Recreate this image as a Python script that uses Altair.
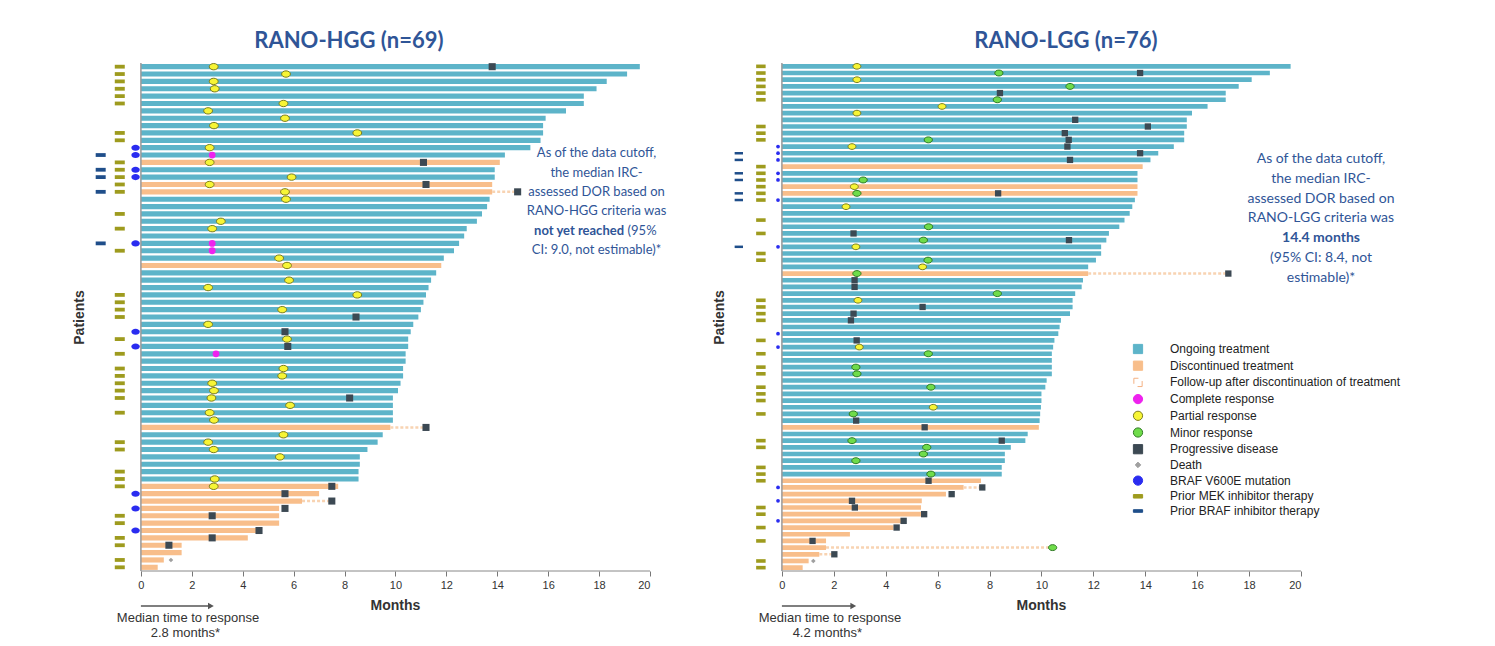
import altair as alt
import pandas as pd

# ---------------- RANO-HGG (n=69) ----------------
hgg_end = [19.6, 19.1, 18.3, 17.9, 17.4, 17.4, 16.7, 15.9, 15.8, 15.8,
           15.7, 15.3, 14.3, 14.1, 13.9, 13.9, 13.8, 13.8, 13.7, 13.6,
           13.4, 13.2, 12.8, 12.7, 12.5, 12.3, 11.9, 11.8, 11.6, 11.4,
           11.3, 11.2, 11.1, 11.0, 10.9, 10.7, 10.6, 10.5, 10.5, 10.4,
           10.4, 10.3, 10.3, 10.2, 10.1, 9.9, 9.9, 9.9, 9.9, 9.8,
           9.5, 9.3, 8.9, 8.6, 8.6, 8.55, 8.55, 7.75, 7.0, 6.33,
           5.43, 5.43, 5.43, 4.6, 4.2, 1.6, 1.6, 0.9, 0.66]
hgg_disc = [14, 17, 18, 28, 50] + list(range(58, 70))
hgg_fu_rows = [18, 50, 60]
hgg_fu_end = [14.8, 11.2, 7.5]
hgg_pr_rows = [1, 2, 3, 4, 6, 7, 8, 9, 10, 12, 14, 16, 17, 18, 19, 22, 23, 27, 28, 30,
               31, 32, 34, 36, 38, 42, 43, 44, 45, 46, 47, 48, 49, 51, 52, 53, 54, 57, 58]
hgg_pr_m = [2.86, 5.7, 2.86, 2.9, 5.6, 2.64, 5.66, 2.87, 8.5, 2.7, 2.7, 5.92, 2.7, 5.66, 5.7,
            3.14, 2.8, 5.43, 5.74, 5.82, 2.64, 8.5, 5.55, 2.64, 5.74, 5.6, 5.55, 2.8, 2.87,
            2.77, 5.86, 2.7, 2.87, 5.6, 2.64, 2.86, 5.46, 2.9, 2.86]
hgg_cr_rows = [13, 25, 26, 40]
hgg_cr_m = [2.8, 2.8, 2.8, 2.95]
hgg_mr_rows = []
hgg_mr_m = []
hgg_pd_rows = [1, 14, 17, 18, 35, 37, 39, 46, 50, 58, 59, 60, 61, 62, 64, 65, 66]
hgg_pd_m = [13.8, 11.1, 11.2, 14.8, 8.45, 5.66, 5.77, 8.2, 11.2, 7.5, 5.66, 7.5, 5.66,
            2.8, 4.64, 2.8, 1.1]
hgg_death_rows = [68]
hgg_death_m = [1.18]
hgg_mek = [1, 2, 3, 4, 5, 6, 10, 11, 14, 15, 16, 17, 18, 21, 23, 26, 32, 33, 34, 35, 38, 40,
           42, 43, 44, 45, 46, 48, 52, 53, 56, 57, 58, 62, 63, 65, 66, 68, 69]
hgg_braf = [13, 15, 16, 18, 25]
hgg_v600 = [12, 13, 15, 16, 25, 37, 39, 59, 61, 64]

# ---------------- RANO-LGG (n=76) ----------------
lgg_end = [19.6, 18.8, 18.1, 17.6, 17.1, 17.1, 16.4, 15.8, 15.6, 15.6,
           15.5, 15.5, 15.1, 14.5, 14.2, 13.9, 13.7, 13.7, 13.7, 13.7,
           13.6, 13.5, 13.4, 13.2, 13.0, 12.6, 12.5, 12.3, 12.3, 12.1,
           11.8, 11.8, 11.6, 11.55, 11.3, 11.2, 11.2, 11.1, 10.75, 10.7,
           10.65, 10.5, 10.45, 10.4, 10.4, 10.4, 10.4, 10.2, 10.15, 10.0,
           10.0, 9.98, 9.95, 9.93, 9.9, 9.47, 9.38, 8.82, 8.59, 8.59,
           8.47, 8.47, 7.67, 7.0, 6.32, 5.39, 5.36, 5.42, 4.69, 4.3,
           2.62, 1.7, 1.7, 1.44, 1.03, 0.8]
lgg_disc = [16, 19, 20, 32, 55] + list(range(63, 77))
lgg_fu_rows = [32, 64, 73, 74]
lgg_fu_end = [17.2, 7.72, 10.43, 2.02]
lgg_pr_rows = [1, 3, 7, 8, 13, 19, 22, 28, 31, 36, 43, 52]
lgg_pr_m = [2.89, 2.89, 6.17, 2.89, 2.7, 2.79, 2.47, 2.85, 5.42, 2.93, 2.98, 5.83]
lgg_cr_rows = []
lgg_cr_m = []
lgg_mr_rows = [2, 4, 6, 12, 18, 20, 25, 27, 30, 32, 35, 44, 46, 47, 49, 53, 57, 58, 59, 60, 62, 73]
lgg_mr_m = [8.36, 11.1, 8.3, 5.64, 3.13, 2.89, 5.65, 5.45, 5.63, 2.89, 8.3, 5.64, 2.85, 2.89,
            5.74, 2.75, 2.7, 5.58, 5.45, 2.85, 5.74, 10.43]
lgg_pd_rows = [2, 5, 9, 10, 11, 12, 13, 14, 15, 20, 26, 27, 32, 33, 34, 37, 38, 39, 42, 54,
               55, 57, 63, 64, 65, 66, 67, 68, 69, 70, 72, 74]
lgg_pd_m = [13.8, 8.4, 11.3, 14.1, 10.9, 11.05, 11.0, 13.8, 11.1, 8.33, 2.76, 11.06, 17.2,
            2.8, 2.8, 5.42, 2.76, 2.66, 2.88, 2.86, 5.5, 8.47, 5.65, 7.72, 6.54, 2.7, 2.81,
            5.48, 4.69, 4.42, 1.18, 2.02]
lgg_death_rows = [75]
lgg_death_m = [1.21]
lgg_mek = [1, 2, 3, 4, 5, 6, 10, 11, 12, 16, 17, 18, 19, 20, 21, 24, 26, 29, 30, 36, 37, 38,
           39, 42, 44, 46, 47, 49, 50, 51, 53, 57, 58, 61, 62, 63, 67, 68, 70, 72, 75, 76]
lgg_braf = [14, 15, 17, 18, 20, 21, 28]
lgg_v600 = [13, 14, 15, 17, 18, 21, 28, 41, 43, 64, 66, 69]

legend_labels = ["Ongoing treatment", "Discontinued treatment",
                 "Follow-up after discontinuation of treatment", "Complete response",
                 "Partial response", "Minor response", "Progressive disease", "Death",
                 "BRAF V600E mutation", "Prior MEK inhibitor therapy",
                 "Prior BRAF inhibitor therapy"]

# ---------------- styles ----------------
FONT = "Liberation Sans"
NOTE_FONT = "Lato"
BLUE = "#2f5597"
TEAL = "#5db4c9"
ORANGE = "#f8be8b"
FU = "#f8d3b2"
CRC = "#ee22ee"
PRF, PRS = "#f7f535", "#7d7d1e"
MRF, MRS = "#6fdc4a", "#2f7a23"
PDC = "#3c4953"
DEATHC = "#a0a0a0"
V600C = "#2a2cf0"
MEKC = "#9e9b1e"
BRAFC = "#1f4e8a"
RECT = "M-1,-0.38L1,-0.38L1,0.38L-1,0.38Z"
ELL = "M-1,0A1,0.72,0,1,1,1,0A1,0.72,0,1,1,-1,0Z"
DIAM = "M0,-0.6L0.6,0L0,0.6L-0.6,0Z"
BRACKET = "M-0.9,0.3L-0.9,-0.9L0.1,-0.9M0.9,-0.3L0.9,0.9L-0.1,0.9"

legend_fill = [TEAL, ORANGE, "transparent", CRC, PRF, MRF, PDC, DEATHC, V600C, MEKC, BRAFC]
legend_stroke = [TEAL, ORANGE, "#f4b183", CRC, PRS, MRS, PDC, DEATHC, V600C, MEKC, BRAFC]
legend_shape = ["square", "square", BRACKET, "circle", "circle", "circle", "square", DIAM,
                "circle", RECT, "M-1,-0.28L1,-0.28L1,0.28L-1,0.28Z"]

H = 508


def one():
    return pd.DataFrame({"k": [0]})


def text_layer(x, ypx, s, size=14, bold=False, color=BLUE, align="center", font=NOTE_FONT):
    return alt.Chart(one()).mark_text(
        text=s, fontSize=size, fontWeight="bold" if bold else "normal", color=color,
        align=align, baseline="middle", font=font
    ).encode(x=alt.datum(x), y=alt.value(ypx))


def panel(n, ends, disc, fu_rows, fu_end, pr, cr, mr, pdz, death, mek, braf, v600,
          W, big, title, title_x, notes, cols, with_legend):
    rows = list(range(1, n + 1))
    bars = pd.DataFrame({"row": rows, "start": [0.0] * n, "end": ends})
    bars["disc"] = [r in disc for r in rows]
    yenc = alt.Y("row:O",
                 scale=alt.Scale(domain=rows, paddingInner=0.3, paddingOuter=0.15),
                 axis=alt.Axis(title="Patients", labels=False, ticks=False, domain=False,
                               titleFont=FONT, titleFontSize=14, titleFontWeight="bold",
                               titleColor="#333333", titlePadding=4))
    xscale = alt.Scale(domain=[-2, 20], nice=False, zero=False)
    xaxis = alt.Axis(values=list(range(0, 21, 2)), domain=False, grid=False, title=None,
                     labelFont=FONT, labelFontSize=11, labelColor="#333333",
                     tickColor="#777777", tickSize=5, labelPadding=3)

    def X(f):
        return alt.X(f, scale=xscale, axis=xaxis)

    layers = []
    layers.append(alt.Chart(bars[~bars.disc]).mark_bar(color=TEAL).encode(
        x=X("start:Q"), x2="end:Q", y=yenc))
    layers.append(alt.Chart(bars[bars.disc]).mark_bar(color=ORANGE).encode(
        x=X("start:Q"), x2="end:Q", y=yenc))
    fu = pd.DataFrame({"row": fu_rows, "s": [ends[r - 1] for r in fu_rows], "e": fu_end})
    layers.append(alt.Chart(fu).mark_rule(color=FU, strokeWidth=2.5, strokeDash=[3, 2]).encode(
        x=X("s:Q"), x2="e:Q", y=yenc))
    # axis lines
    layers.append(alt.Chart(one()).mark_rule(color="#888888", strokeWidth=1).encode(
        x=alt.datum(0), x2=alt.datum(20), y=alt.value(H)))
    layers.append(alt.Chart(one()).mark_rule(color="#999999", strokeWidth=1.5).encode(
        x=alt.datum(0), y=alt.value(0), y2=alt.value(H)))

    k = 1.0 if big else 0.8

    def pts(rr, mm, **mk):
        df = pd.DataFrame({"row": rr, "m": mm})
        return alt.Chart(df).mark_point(filled=True, opacity=1, **mk).encode(x=X("m:Q"), y=yenc)

    if len(pr[0]):
        layers.append(pts(pr[0], pr[1], shape=ELL, size=78 * k, fill=PRF, stroke=PRS, strokeWidth=1))
    if len(cr[0]):
        layers.append(pts(cr[0], cr[1], shape="circle", size=46 * k, fill=CRC, color=CRC))
    if len(mr[0]):
        layers.append(pts(mr[0], mr[1], shape=ELL, size=85 * k, fill=MRF, stroke=MRS, strokeWidth=1))
    if len(pdz[0]):
        layers.append(pts(pdz[0], pdz[1], shape="square", size=50 * k, color=PDC))
    if len(death[0]):
        layers.append(pts(death[0], death[1], shape=DIAM, size=60, color=DEATHC))

    # left-side patient characteristics
    def col(rr, xpos, **mk):
        df = pd.DataFrame({"row": rr})
        return alt.Chart(df).mark_point(filled=True, opacity=1, **mk).encode(
            x=alt.datum(xpos), y=yenc)

    layers.append(col(braf, cols[0], shape=RECT if big else "M-1,-0.3L1,-0.3L1,0.3L-1,0.3Z",
                      size=100 if big else 70, color=BRAFC))
    layers.append(col(mek, cols[1], shape=RECT, size=100 if big else 90, color=MEKC))
    layers.append(col(v600, cols[2], shape=ELL if big else "circle",
                      size=70 if big else 14, color=V600C))

    # title, axis title, annotations
    layers.append(text_layer(title_x, -22, title, size=22, bold=True))
    layers.append(text_layer(10, H + 35, "Months", size=14, bold=True, color="#333333", font=FONT))
    arrow = pd.DataFrame({"a": [0.0], "b": [2.75]})
    layers.append(alt.Chart(arrow).mark_rule(color="#555555", strokeWidth=1.3).encode(
        x=X("a:Q"), x2="b:Q", y=alt.value(H + 35)))
    layers.append(alt.Chart(arrow).mark_point(shape="triangle-right", filled=True, opacity=1,
                                              size=45, color="#555555").encode(
        x=X("b:Q"), y=alt.value(H + 35)))
    for item in notes:
        layers.append(text_layer(*item[:3], **item[3]))

    if with_legend:
        # legend position is relative to the origin of the first (left) plot
        leg = alt.Legend(orient="none", legendX=1042, legendY=280, title=None,
                         labelFont=FONT, labelFontSize=12, labelColor="#222222",
                         labelLimit=400, symbolSize=85, labelOffset=26, rowPadding=2.7,
                         symbolStrokeWidth=1, symbolOpacity=1)
        ldf = pd.DataFrame({"item": legend_labels})
        layers.append(alt.Chart(ldf).mark_point(filled=True, clip=True, opacity=1).encode(
            x=alt.datum(-60), y=alt.value(0),
            color=alt.Color("item:N", scale=alt.Scale(domain=legend_labels, range=legend_fill),
                            legend=leg),
            shape=alt.Shape("item:N", scale=alt.Scale(domain=legend_labels, range=legend_shape),
                            legend=leg),
            stroke=alt.Stroke("item:N", scale=alt.Scale(domain=legend_labels, range=legend_stroke),
                              legend=leg)))

    return alt.layer(*layers).properties(width=W, height=H)


hgg_notes = [
    (17.9, 90, "As of the data cutoff,", {"size": 13}),
    (17.9, 109.5, "the median IRC-", {"size": 13}),
    (17.9, 129, "assessed DOR based on", {"size": 13}),
    (17.9, 148, "RANO-HGG criteria was", {"size": 13}),
    (18.98, 167.5, "not yet reached", {"bold": True, "align": "right", "size": 13}),
    (19.12, 167.5, "(95%", {"align": "left", "size": 13}),
    (17.9, 187, "CI: 9.0, not estimable)*", {"size": 13}),
    (1.85, H + 47, "Median time to response", {"size": 13, "color": "#333333", "font": FONT}),
    (1.75, H + 62, "2.8 months*", {"size": 13, "color": "#333333", "font": FONT}),
]
lgg_notes = [
    (20.77, 96, "As of the data cutoff,", {}),
    (20.77, 116, "the median IRC-", {}),
    (20.77, 135.5, "assessed DOR based on", {}),
    (20.77, 155, "RANO-LGG criteria was", {}),
    (20.77, 175, "14.4 months", {"bold": True}),
    (20.77, 195, "(95% CI: 8.4, not", {}),
    (20.77, 215, "estimable)*", {}),
    (1.85, H + 47, "Median time to response", {"size": 13, "color": "#333333", "font": FONT}),
    (1.75, H + 62, "4.2 months*", {"size": 13, "color": "#333333", "font": FONT}),
]

left = panel(69, hgg_end, hgg_disc, hgg_fu_rows, hgg_fu_end,
             (hgg_pr_rows, hgg_pr_m), (hgg_cr_rows, hgg_cr_m), (hgg_mr_rows, hgg_mr_m),
             (hgg_pd_rows, hgg_pd_m), (hgg_death_rows, hgg_death_m),
             hgg_mek, hgg_braf, hgg_v600, 560, True, "RANO-HGG (n=69)", 8.17, hgg_notes,
             (-1.58, -0.83, -0.21), False)
right = panel(76, lgg_end, lgg_disc, lgg_fu_rows, lgg_fu_end,
              (lgg_pr_rows, lgg_pr_m), (lgg_cr_rows, lgg_cr_m), (lgg_mr_rows, lgg_mr_m),
              (lgg_pd_rows, lgg_pd_m), (lgg_death_rows, lgg_death_m),
              lgg_mek, lgg_braf, lgg_v600, 571, False, "RANO-LGG (n=76)", 10.94, lgg_notes,
              (-1.66, -0.81, -0.15), True)

chart = alt.hconcat(left, right, spacing=44).properties(
    padding={"left": 63, "top": 21, "right": 5, "bottom": 5},
    background="white",
).configure_view(stroke="transparent")

chart.save("out.html", embed_options={"renderer": "svg", "actions": False})
